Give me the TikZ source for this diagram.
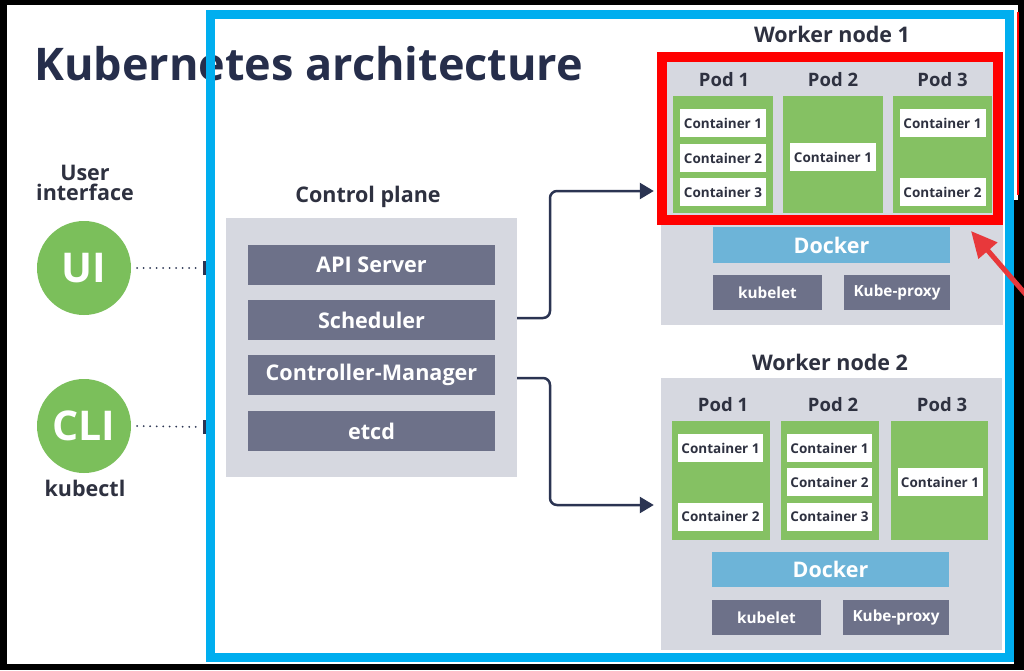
\documentclass[tikz,border=0pt]{standalone}
\usepackage{fontspec}
\setmainfont{Open Sans}
\usetikzlibrary{arrows.meta}
\definecolor{ink}{HTML}{2E3140}
\definecolor{navy}{HTML}{262E4B}
\definecolor{panelgray}{HTML}{D6D8E0}
\definecolor{slate}{HTML}{6D7189}
\definecolor{podgreen}{HTML}{85C163}
\definecolor{circgreen}{HTML}{7BBF5B}
\definecolor{dockblue}{HTML}{6DB4D8}
\definecolor{frameblue}{HTML}{00AEEF}
\definecolor{framered}{HTML}{FF0000}
\definecolor{arrowred}{HTML}{E8383B}
\definecolor{connc}{HTML}{2B3452}
\newcommand\fsz[1]{\fontsize{#1}{#1}\selectfont}
\begin{document}
\begin{tikzpicture}[x=1pt,y=-1pt,
  panel/.style={fill=panelgray, inner sep=0pt},
  cpbox/.style={fill=slate, text=white, inner sep=0pt, font=\bfseries\fsz{21.6}, minimum width=247pt, minimum height=40pt},
  pod/.style={fill=podgreen, inner sep=0pt},
  cont/.style={fill=white, text=ink, inner sep=0pt, font=\bfseries\fsz{13.5}, minimum width=86pt, minimum height=28pt},
  dock/.style={fill=dockblue, text=white, inner sep=0pt, font=\bfseries\fsz{21.5}, minimum width=237pt, minimum height=36pt},
  kbox/.style={fill=slate, text=white, inner sep=0pt, font=\bfseries\fsz{15.3}, minimum height=35pt},
  lbl/.style={text=ink, inner sep=0pt, font=\bfseries\fsz{#1}},
  lbl/.default=21.5,
  circ/.style={circle, fill=circgreen, text=white, inner sep=0pt, minimum size=94pt, font=\bfseries\fsz{41}},
  dotline/.style={connc, line width=2pt, line cap=round, dash pattern=on 0pt off 6.5pt},
  conn/.style={connc, line width=2.5pt, rounded corners=7pt, -{Triangle[length=14pt,width=16pt]}},
]
\useasboundingbox (0,0) rectangle (1024,670);
% screen background
\fill[black] (0,0) rectangle (1024,670);
\fill[white] (7,5) rectangle (1014,664);
\fill[white] (1014,5) rectangle (1018,200);
\draw[framered, line width=1.2pt] (1018,12) -- (1018,195);

% title
\node[anchor=base west, text=navy, inner sep=0pt, font=\bfseries\fsz{45}] (title) at (34,80) {Kubernetes architecture};

% user interface
\node[lbl, align=center] (uilbl) at (85,183) {User\\[-2pt]interface};
\node[circ] (ui) at (84,268) {UI};
\node[circ] (cli) at (84,426) {CLI};
\node[lbl] (kubectl) at (85,488) {kubectl};
\coordinate (uiend) at (204,268);
\coordinate (cliend) at (204,427);
\draw[dotline] ([xshift=6pt]ui.east) -- ([xshift=-4pt]uiend);
\draw[dotline] ([xshift=6pt]cli.east) -- ([xshift=-4pt]cliend);
\draw[connc, line width=3pt] ([yshift=-7pt]uiend) -- ([yshift=7pt]uiend);
\draw[connc, line width=3pt] ([yshift=-7pt]cliend) -- ([yshift=7pt]cliend);

% control plane
\node[lbl] (cplbl) at (368,197) {Control plane};
\node[panel, minimum width=291pt, minimum height=259pt] (cp) at (371.5,347.5) {};
\node[cpbox] (api) at (371.5,265) {API Server};
\node[cpbox] (sched) at (371.5,320) {Scheduler};
\node[cpbox] (cm) at (371.5,375) {Controller-Manager};
\node[cpbox] (etcd) at (371.5,431) {etcd};

% worker node 1
\node[lbl] (w1lbl) at (832,34) {Worker node 1};
\node[panel, minimum width=342pt, minimum height=268pt] (w1) at (832,191) {};
\node[lbl=18.5] (w1p1l) at (724,80) {Pod 1};
\node[lbl=18.5] (w1p2l) at (833,80) {Pod 2};
\node[lbl=18.5] (w1p3l) at (942.5,80) {Pod 3};
\node[pod, minimum width=100pt, minimum height=117pt] (w1p1) at (723,154.5) {};
\node[pod, minimum width=100pt, minimum height=117pt] (w1p2) at (833,154.5) {};
\node[pod, minimum width=99pt, minimum height=117pt] (w1p3) at (942.5,154.5) {};
\node[cont] (w1c11) at (723,123) {Container 1};
\node[cont] (w1c12) at (723,158) {Container 2};
\node[cont] (w1c13) at (723,192) {Container 3};
\node[cont] (w1c21) at (833,157) {Container 1};
\node[cont] (w1c31) at (942.5,123) {Container 1};
\node[cont] (w1c32) at (942.5,192) {Container 2};
\node[dock] (w1d) at (831.5,245) {Docker};
\node[kbox, minimum width=109pt] (w1k) at (767.5,292.5) {kubelet};
\node[kbox, minimum width=106pt] (w1kp) at (897,292.5) {Kube-proxy};

% worker node 2
\node[lbl] (w2lbl) at (830,362) {Worker node 2};
\node[panel, minimum width=341pt, minimum height=272pt] (w2) at (831.5,514) {};
\node[lbl=18.5] (w2p1l) at (723,405) {Pod 1};
\node[lbl=18.5] (w2p2l) at (833,405) {Pod 2};
\node[lbl=18.5] (w2p3l) at (942,405) {Pod 3};
\node[pod, minimum width=98pt, minimum height=119pt] (w2p1) at (721,480.5) {};
\node[pod, minimum width=98pt, minimum height=119pt] (w2p2) at (830,480.5) {};
\node[pod, minimum width=97pt, minimum height=119pt] (w2p3) at (939.5,480.5) {};
\node[cont, minimum width=85pt] (w2c11) at (720.5,448) {Container 1};
\node[cont, minimum width=85pt] (w2c12) at (720.5,516.5) {Container 2};
\node[cont, minimum width=85pt] (w2c21) at (829.5,448) {Container 1};
\node[cont, minimum width=85pt] (w2c22) at (829.5,482) {Container 2};
\node[cont, minimum width=85pt] (w2c23) at (829.5,516.5) {Container 3};
\node[cont, minimum width=85pt] (w2c31) at (940,482) {Container 1};
\node[dock, minimum height=35pt] (w2d) at (830.5,569.5) {Docker};
\node[kbox, minimum width=109pt] (w2k) at (766.5,617.5) {kubelet};
\node[kbox, minimum width=106pt] (w2kp) at (896,617.5) {Kube-proxy};

% connectors
\draw[conn] ([yshift=29.5pt]cp.east) -- (550,318) -- (550,191) -- ([xshift=-7pt]w1.west |- 0,191);
\draw[conn] ([yshift=-30.5pt]cp.east) -- (550,378) -- (550,505) -- ([xshift=-7pt]w2.west |- 0,505);

% highlight frames
\draw[framered, line width=10pt] (662,57) rectangle (998,220);
\draw[frameblue, line width=9pt] (210.5,14.5) rectangle (1009.5,657.5);

% red pointer arrow
\coordinate (rtail) at (1034,304);
\coordinate (rtip) at (971,231);
\draw[arrowred, line width=5pt, -{Triangle[length=26pt,width=24pt]}] (rtail) -- (rtip);
\end{tikzpicture}
\end{document}
